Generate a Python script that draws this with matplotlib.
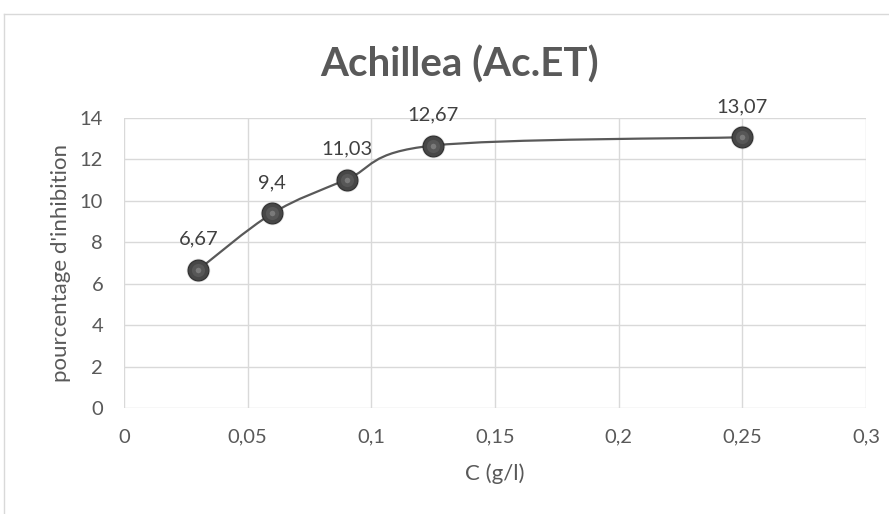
import matplotlib.pyplot as plt
from matplotlib.path import Path
from matplotlib.patches import PathPatch
from matplotlib.ticker import FuncFormatter

conc = [0.03, 0.06, 0.09, 0.125, 0.25]
inhibition = [6.67, 9.4, 11.03, 12.67, 13.07]
labels = ["6,67", "9,4", "11,03", "12,67", "13,07"]

plt.rcParams['font.family'] = ['Lato', 'DejaVu Sans']

def smooth_path(xs, ys):
    # Catmull-Rom style bezier, like Excel's smoothed line
    pts = list(zip(xs, ys))
    verts = [pts[0]]
    codes = [Path.MOVETO]
    n = len(pts)
    for i in range(n - 1):
        p0 = pts[i - 1] if i > 0 else pts[i]
        p1 = pts[i]
        p2 = pts[i + 1]
        p3 = pts[i + 2] if i + 2 < n else pts[i + 1]
        c1 = (p1[0] + (p2[0] - p0[0]) / 6, p1[1] + (p2[1] - p0[1]) / 6)
        c2 = (p2[0] - (p3[0] - p1[0]) / 6, p2[1] - (p3[1] - p1[1]) / 6)
        verts += [c1, c2, p2]
        codes += [Path.CURVE4] * 3
    return Path(verts, codes)

fig = plt.figure(figsize=(8.89, 5.14), dpi=100)
ax = fig.add_axes([0.1395, 0.2062, 0.8345, 0.5642])

# outer chart border (partly cropped in reference)
fig.add_artist(plt.Line2D([0.0045, 1.0], [0.973, 0.973], color='#d9d9d9', lw=1.0))
fig.add_artist(plt.Line2D([0.0045, 0.0045], [0.0, 0.973], color='#d9d9d9', lw=1.0))

ax.add_patch(PathPatch(smooth_path(conc, inhibition), facecolor='none',
                       edgecolor='#595959', lw=1.6, zorder=3))

# marker shadow, body, highlight
ax.plot(conc, inhibition, 'o', ms=17, color='#000000', alpha=0.12,
        markeredgewidth=0, zorder=3.5)
ax.plot(conc, inhibition, 'o', ms=15, markerfacecolor='#474747',
        markeredgecolor='#2e2e2e', markeredgewidth=0.8, zorder=4)
ax.plot(conc, inhibition, 'o', ms=9.5, markerfacecolor='#575757',
        markeredgewidth=0, zorder=4.5)
ax.plot(conc, inhibition, 'o', ms=4, markerfacecolor='#7a7a7a',
        markeredgewidth=0, zorder=5)

for x, y, t in zip(conc, inhibition, labels):
    ax.annotate(t, (x, y), xytext=(0, 18), textcoords='offset points',
                ha='center', va='baseline', fontsize=14.5, color='#404040')

ax.set_xlim(0, 0.3)
ax.set_ylim(0, 14)
ax.set_xticks([0, 0.05, 0.1, 0.15, 0.2, 0.25, 0.3])
ax.set_yticks(range(0, 15, 2))
ax.xaxis.set_major_formatter(FuncFormatter(lambda v, p: ('%g' % round(v, 2)).replace('.', ',')))
ax.grid(True, color='#d9d9d9', lw=1.0)
ax.set_axisbelow(True)
for s in ax.spines.values():
    s.set_visible(False)
ax.tick_params(length=0, labelsize=14.5, labelcolor='#595959')
ax.tick_params(axis='x', pad=15)
ax.tick_params(axis='y', pad=15)

fig.text(0.517, 0.874, "Achillea (Ac.ET)", fontsize=29, fontweight='bold',
         color='#595959', ha='center', va='center')
ax.set_xlabel("C (g/l)", fontsize=16, color='#595959', labelpad=13)
ax.set_ylabel("pourcentage d'inhibition", fontsize=16, color='#595959', labelpad=6)

fig.savefig('out.png', dpi=100, facecolor='white')
